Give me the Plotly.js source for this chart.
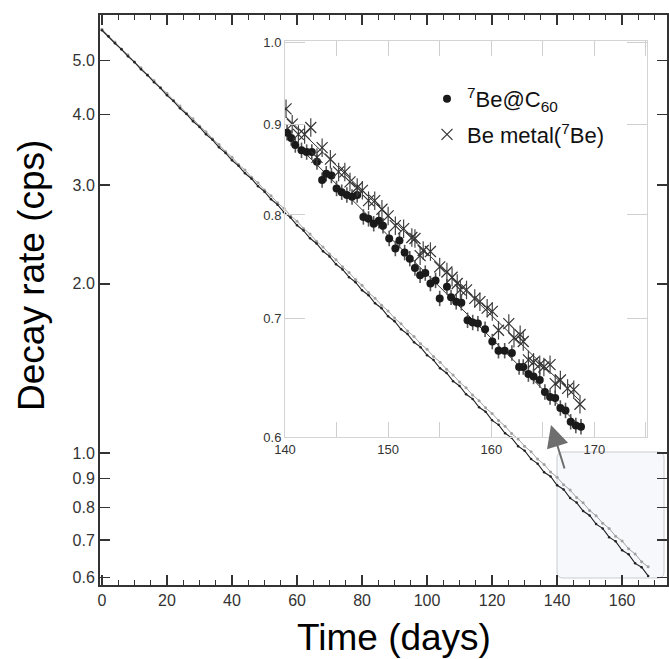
<!DOCTYPE html>
<html>
<head>
<meta charset="utf-8">
<script src="https://cdn.plot.ly/plotly-3.0.1.min.js"></script>
<style>html,body{margin:0;padding:0;background:#fff;}#chart{width:669px;height:659px;}</style>
</head>
<body>
<div id="chart"></div>
<script>
// ---- main panel data ----
const mainDays = [0,2,4,6,8,10,12,14,16,18,20,22,24,26,28,30,32,34,36,38,40,42,44,46,48,50,52,54,56,58,60,62,64,66,68,70,72,74,76,78,80,82,84,86,88,90,92,94,96,98,100,102,104,106,108,110,112,114,116,118,120,122,124,126,128,130,132,134,136,138,140,142,144,146,148,150,152,154,156,158,160,162,164,166,168];
const mainC60 = [5.655,5.518,5.362,5.231,5.082,4.961,4.818,4.705,4.570,4.462,4.331,4.231,4.106,4.012,3.894,3.805,3.692,3.609,3.500,3.421,3.319,3.245,3.147,3.077,2.984,2.918,2.829,2.767,2.682,2.624,2.543,2.488,2.411,2.360,2.286,2.238,2.167,2.122,2.055,2.013,1.948,1.909,1.847,1.810,1.751,1.716,1.660,1.628,1.574,1.543,1.493,1.463,1.415,1.388,1.342,1.316,1.272,1.248,1.206,1.184,1.143,1.122,1.084,1.064,1.028,1.009,0.975,0.957,0.924,0.908,0.876,0.861,0.831,0.816,0.788,0.774,0.747,0.734,0.708,0.696,0.671,0.660,0.636,0.626,0.604];
const mainMetal = [5.676,5.519,5.388,5.236,5.113,4.968,4.851,4.713,4.604,4.472,4.368,4.243,4.145,4.026,3.934,3.820,3.732,3.625,3.541,3.440,3.361,3.263,3.189,3.097,3.026,2.938,2.871,2.788,2.725,2.645,2.585,2.510,2.453,2.381,2.327,2.260,2.208,2.145,2.095,2.035,1.988,1.930,1.886,1.832,1.790,1.738,1.698,1.649,1.611,1.565,1.529,1.485,1.451,1.409,1.377,1.337,1.306,1.268,1.239,1.203,1.176,1.142,1.116,1.083,1.059,1.028,1.005,0.975,0.954,0.925,0.905,0.878,0.859,0.833,0.815,0.790,0.773,0.750,0.734,0.711,0.697,0.675,0.661,0.640,0.627];

// ---- inset data ----
const insetC60Days = [140.2,140.6,141.0,141.6,142.1,142.6,143.1,143.6,144.0,144.5,145.0,145.5,146.0,146.5,147.0,147.6,148.1,148.6,149.1,149.5,150.1,150.7,151.1,151.6,152.1,152.6,153.1,153.6,154.1,154.6,155.0,155.7,156.1,156.6,157.1,157.7,158.2,158.7,159.4,160.1,160.7,161.3,162.0,162.7,163.1,163.6,164.1,164.7,165.2,165.7,166.2,166.7,167.2,167.7,168.2,168.7];
const insetC60 = [0.890,0.884,0.876,0.870,0.868,0.868,0.857,0.837,0.844,0.842,0.828,0.824,0.821,0.819,0.821,0.798,0.796,0.791,0.794,0.789,0.776,0.766,0.774,0.762,0.756,0.747,0.740,0.742,0.732,0.735,0.718,0.729,0.719,0.715,0.714,0.698,0.696,0.695,0.690,0.679,0.671,0.671,0.669,0.657,0.657,0.651,0.649,0.646,0.636,0.632,0.631,0.623,0.621,0.612,0.609,0.608];
const insetMetalDays = [140.1,140.7,141.3,141.9,142.5,143.1,143.6,144.4,145.2,145.8,146.3,147.0,147.5,148.1,148.7,149.4,150.0,150.7,151.5,152.3,152.6,153.1,153.4,154.1,155.0,155.7,156.2,156.7,157.0,157.6,158.4,158.9,159.6,160.1,160.7,161.7,162.2,162.8,163.1,163.6,164.1,164.7,165.1,165.7,166.2,166.7,167.4,168.0,168.6];
const insetMetal = [0.918,0.900,0.888,0.888,0.896,0.862,0.873,0.860,0.846,0.846,0.835,0.829,0.826,0.815,0.815,0.806,0.799,0.789,0.786,0.777,0.776,0.759,0.764,0.763,0.748,0.743,0.738,0.732,0.726,0.726,0.718,0.715,0.709,0.706,0.689,0.695,0.682,0.685,0.679,0.663,0.661,0.659,0.657,0.659,0.643,0.646,0.639,0.638,0.626];

// ---- tick labels ----
const mainYTicks = [0.6,0.7,0.8,0.9,1.0,2.0,3.0,4.0,5.0];
const mainYTickText = ['0.6','0.7','0.8','0.9','1.0','2.0','3.0','4.0','5.0'];
const insetYTicks = [0.6,0.7,0.8,0.9,1.0];
const insetYTickText = ['0.6','0.7','0.8','0.9','1.0'];
const legendC60 = '<sup>7</sup>Be@C<sub>60</sub>';
const legendMetal = 'Be metal(<sup>7</sup>Be)';

// exponential (log-linear) least-squares fit from the data
function expFit(xs, ys) {
  const n = xs.length;
  let sx=0, sy=0, sxx=0, sxy=0;
  for (let i=0;i<n;i++){const lx=xs[i], ly=Math.log(ys[i]); sx+=lx; sy+=ly; sxx+=lx*lx; sxy+=lx*ly;}
  const b=(n*sxy-sx*sy)/(n*sxx-sx*sx), a=(sy-b*sx)/n;
  const x0=xs[0], x1=xs[n-1];
  return {x:[x0,x1], y:[Math.exp(a+b*x0), Math.exp(a+b*x1)]};
}
const fitC60 = expFit(insetC60Days, insetC60);
const fitMetal = expFit(insetMetalDays, insetMetal);

const FONT = 'Liberation Sans, Arial, Helvetica, sans-serif';

const traces = [
  {x: mainDays, y: mainMetal, type:'scatter', mode:'lines+markers', xaxis:'x', yaxis:'y',
   line:{color:'#a0a0a0', width:1}, marker:{color:'#a0a0a0', size:3}, showlegend:false, hoverinfo:'skip'},
  {x: mainDays, y: mainC60, type:'scatter', mode:'lines+markers', xaxis:'x', yaxis:'y',
   line:{color:'#222', width:1.1}, marker:{color:'#222', size:2.5}, showlegend:false, hoverinfo:'skip'},
  {x: fitC60.x, y: fitC60.y, type:'scatter', mode:'lines', xaxis:'x2', yaxis:'y2',
   line:{color:'#333', width:1}, showlegend:false, hoverinfo:'skip'},
  {x: fitMetal.x, y: fitMetal.y, type:'scatter', mode:'lines', xaxis:'x2', yaxis:'y2',
   line:{color:'#333', width:1}, showlegend:false, hoverinfo:'skip'},
  {x: insetC60Days, y: insetC60, type:'scatter', mode:'markers', xaxis:'x2', yaxis:'y2',
   name: legendC60, legendgroup:'a',
   marker:{symbol:'circle', size:8, color:'#1a1a1a'},
   error_y:{type:'percent', value:1.0, color:'#555', thickness:1.6, width:0}},
  {x: insetMetalDays, y: insetMetal, type:'scatter', mode:'markers', xaxis:'x2', yaxis:'y2',
   name: legendMetal, legendgroup:'b',
   marker:{symbol:'x-thin-open', size:11, color:'#333', line:{color:'#333', width:1.2}},
   error_y:{type:'percent', value:1.2, color:'#444', thickness:1.2, width:0}}
];

function px2fx(p){return (p-100)/567;}
function px2fy(p){return (585-p)/570;}
function roundRect(x0,y0,x1,y1,r){
  const X=px2fx, Y=px2fy;
  return `M${X(x0+r)},${Y(y0)} L${X(x1-r)},${Y(y0)} Q${X(x1)},${Y(y0)} ${X(x1)},${Y(y0+r)} `+
         `L${X(x1)},${Y(y1-r)} Q${X(x1)},${Y(y1)} ${X(x1-r)},${Y(y1)} `+
         `L${X(x0+r)},${Y(y1)} Q${X(x0)},${Y(y1)} ${X(x0)},${Y(y1-r)} `+
         `L${X(x0)},${Y(y0+r)} Q${X(x0)},${Y(y0)} ${X(x0+r)},${Y(y0)} Z`;
}

const layout = {
  width:669, height:659,
  margin:{l:100, r:2, t:15, b:74, pad:0},
  paper_bgcolor:'#ffffff', plot_bgcolor:'rgba(0,0,0,0)',
  font:{family:FONT, color:'#333'},
  showlegend:true,
  legend:{x:px2fx(427), y:px2fy(78), xanchor:'left', yanchor:'top', bgcolor:'rgba(0,0,0,0)',
          font:{size:22, color:'#111', family:FONT}, tracegroupgap:4, traceorder:'grouped'},
  xaxis:{domain:[0,1], anchor:'y', range:[-0.6,173.8], tick0:0, dtick:20,
         ticks:'inside', ticklen:10, tickwidth:1.5, tickcolor:'#333',
         minor:{dtick:5, ticks:'inside', ticklen:5, tickwidth:1.2, tickcolor:'#333', showgrid:false},
         showline:true, linecolor:'#333', linewidth:2, mirror:'ticks',
         showgrid:false, zeroline:false, tickfont:{size:16, color:'#333', family:FONT}},
  yaxis:{domain:[0,1], anchor:'x', type:'log', range:[Math.log10(0.582), Math.log10(6.02)],
         tickvals:mainYTicks, ticktext:mainYTickText,
         ticks:'inside', ticklen:10, tickwidth:1.5, tickcolor:'#333',
         showline:true, linecolor:'#333', linewidth:2, mirror:'ticks',
         showgrid:false, zeroline:false, tickfont:{size:16, color:'#333', family:FONT}},
  xaxis2:{domain:[px2fx(285), px2fx(647)], anchor:'y2', range:[140,175.1], tick0:0, dtick:10,
          ticks:'inside', ticklen:15, tickwidth:1, tickcolor:'#cfcfcf',
          minor:{dtick:5, ticks:'inside', ticklen:15, tickwidth:1, tickcolor:'#cfcfcf', showgrid:false},
          showline:true, linecolor:'#d4d4d4', linewidth:1, mirror:'ticks',
          showgrid:false, zeroline:false, tickfont:{size:13, color:'#333', family:FONT}},
  yaxis2:{domain:[px2fy(437), px2fy(41)], anchor:'x2', type:'log', range:[Math.log10(0.6), Math.log10(1.0)+0.001],
          tickvals:insetYTicks, ticktext:insetYTickText,
          ticks:'inside', ticklen:20, tickwidth:1, tickcolor:'#cfcfcf',
          showline:true, linecolor:'#d4d4d4', linewidth:1, mirror:'ticks',
          showgrid:false, zeroline:false, tickfont:{size:13, color:'#333', family:FONT}},
  shapes:[
    {type:'path', xref:'paper', yref:'paper', layer:'below',
     path: roundRect(557,452,664,578,6), fillcolor:'#f6f8fc', line:{color:'#c9ccd2', width:1}}
  ],
  annotations:[
    {text:'Time (days)', xref:'paper', yref:'paper', x:px2fx(394), y:px2fy(637), xanchor:'center', yanchor:'middle',
     showarrow:false, font:{size:37, color:'#000', family:FONT}},
    {text:'Decay rate (cps)', xref:'paper', yref:'paper', x:px2fx(31), y:px2fy(276), xanchor:'center', yanchor:'middle',
     textangle:-90, showarrow:false, font:{size:37, color:'#000', family:FONT}},
    {text:'', xref:'paper', yref:'paper', x:px2fx(551), y:px2fy(425), ax:14, ay:45,
     showarrow:true, arrowhead:2, arrowsize:2.2, arrowwidth:2, arrowcolor:'#6e6e6e'}
  ]
};

Plotly.newPlot('chart', traces, layout, {staticPlot:true, displayModeBar:false});
</script>
</body>
</html>
